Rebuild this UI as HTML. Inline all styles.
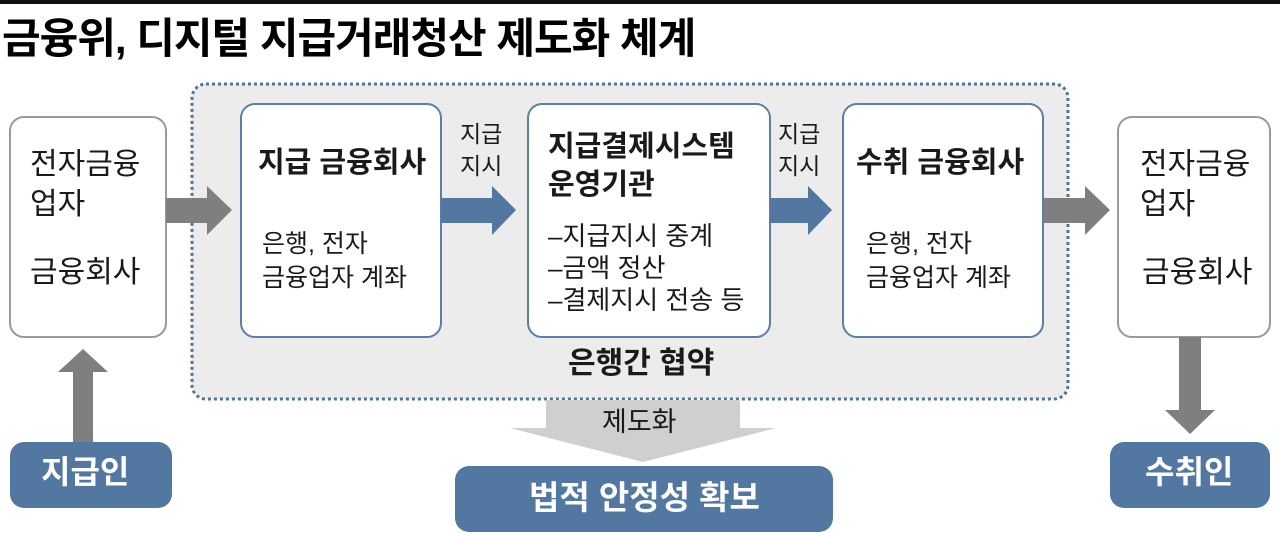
<!DOCTYPE html>
<html><head><meta charset="utf-8"><style>
body{margin:0;width:1280px;height:533px;background:#fff;position:relative;overflow:hidden;font-family:"Liberation Sans","Noto Sans CJK KR",sans-serif;color:#1a1a1a}
.t{position:absolute;white-space:nowrap;line-height:1.2}
svg{position:absolute;left:0;top:0}
</style></head><body>
<svg width="1280" height="533">
<rect x="0" y="0" width="1280" height="4" fill="#111"/>
<rect x="192" y="84" width="876" height="315" rx="14" fill="#ececec" stroke="#4f739c" stroke-width="3" stroke-dasharray="3,3"/>
<rect x="10" y="117" width="156" height="220" rx="14" fill="#fff" stroke="#9a9a9a" stroke-width="2"/>
<rect x="1118" y="117" width="152" height="220" rx="14" fill="#fff" stroke="#9a9a9a" stroke-width="2"/>
<rect x="241" y="104" width="200" height="233" rx="14" fill="#fff" stroke="#5a7fa8" stroke-width="2"/>
<rect x="528" y="104" width="242" height="233" rx="14" fill="#fff" stroke="#5a7fa8" stroke-width="2"/>
<rect x="843" y="104" width="200" height="233" rx="14" fill="#fff" stroke="#5a7fa8" stroke-width="2"/>
<polygon points="166,198 207,198 207,186 232,210 207,235 207,223 166,223" fill="#7f7f7f"/>
<polygon points="1044,198 1085,198 1085,186 1110,210 1085,235 1085,223 1044,223" fill="#7f7f7f"/>
<polygon points="441,198 492,198 492,186 516,210 492,235 492,223 441,223" fill="#5377a0"/>
<polygon points="770,198 808,198 808,186 832,210 808,235 808,223 770,223" fill="#5377a0"/>
<polygon points="73,443 73,372 58,372 83,349 108,372 93,372 93,443" fill="#7f7f7f"/>
<polygon points="1179,337 1179,410 1165,410 1190,434 1215,410 1201,410 1201,337" fill="#7f7f7f"/>
<polygon points="546,400 740,400 740,428 776,428 643,462 510,428 546,428" fill="#cfcfcf"/>
<rect x="10" y="442" width="162" height="66" rx="14" fill="#5278a2"/>
<rect x="1110" y="442" width="160" height="66" rx="14" fill="#5278a2"/>
<rect x="455" y="466" width="378" height="66" rx="14" fill="#5278a2"/>
</svg>
<div class="t" style="left:2px;top:14px;font-size:42px;font-weight:bold;color:#000;letter-spacing:-1px">금융위, 디지털 지급거래청산 제도화 체계</div>
<div class="t" style="left:30px;top:145px;font-size:30px;line-height:40px">전자금융<br>업자</div>
<div class="t" style="left:30px;top:255px;font-size:30px">금융회사</div>
<div class="t" style="left:1140px;top:145px;font-size:30px;line-height:40px">전자금융<br>업자</div>
<div class="t" style="left:1142px;top:255px;font-size:30px">금융회사</div>
<div class="t" style="left:258px;top:146px;font-size:29px;font-weight:bold">지급 금융회사</div>
<div class="t" style="left:262px;top:227px;font-size:25px;line-height:34px">은행, 전자<br>금융업자 계좌</div>
<div class="t" style="left:548px;top:128px;font-size:29px;font-weight:bold;line-height:38px">지급결제시스템<br>운영기관</div>
<div class="t" style="left:548px;top:220px;font-size:26px;line-height:32px">–지급지시 중계<br>–금액 정산<br>–결제지시 전송 등</div>
<div class="t" style="left:856px;top:146px;font-size:29px;font-weight:bold">수취 금융회사</div>
<div class="t" style="left:866px;top:227px;font-size:25px;line-height:34px">은행, 전자<br>금융업자 계좌</div>
<div class="t" style="left:460px;top:118px;font-size:23px;line-height:32px">지급<br>지시</div>
<div class="t" style="left:778px;top:118px;font-size:23px;line-height:32px">지급<br>지시</div>
<div class="t" style="left:568px;top:346px;font-size:30px;font-weight:bold">은행간 협약</div>
<div class="t" style="left:602px;top:406px;font-size:27px">제도화</div>
<div class="t" style="left:41px;top:453px;font-size:32px;font-weight:bold;color:#fff">지급인</div>
<div class="t" style="left:1145px;top:453px;font-size:32px;font-weight:bold;color:#fff">수취인</div>
<div class="t" style="left:529px;top:478px;font-size:33px;font-weight:bold;color:#fff">법적 안정성 확보</div>
</body></html>
